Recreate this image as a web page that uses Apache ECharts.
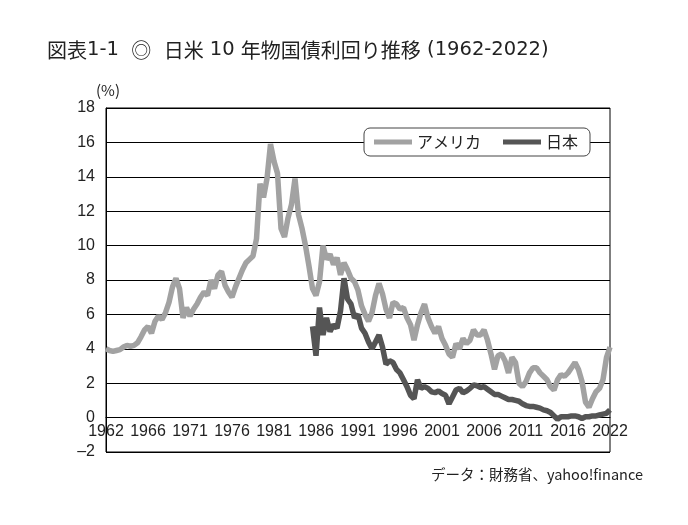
<!DOCTYPE html>
<html>
<head>
<meta charset="utf-8">
<script src="https://cdn.jsdelivr.net/npm/echarts@6/dist/echarts.min.js"></script>
<style>
  html, body { margin: 0; padding: 0; background: #fff; }
  #chart { width: 688px; height: 525px; }
</style>
</head>
<body>
<div id="chart"></div>
<script>
// 目盛りラベル (等間隔、12点ごと)
const xLabels = ['1962', '1966', '1971', '1976', '1981', '1986', '1991', '1996', '2001', '2006', '2011', '2016', '2022'];
const stepPerLabel = 12;

// アメリカ 10年債利回り (%)
const usYield = [
  4.0, 3.9, 3.85, 3.9, 3.95, 4.1, 4.2, 4.15, 4.2, 4.35, 4.7, 5.1,
  5.3, 4.9, 5.6, 5.9, 5.7, 6.1, 6.7, 7.6, 8.1, 7.5, 5.8, 6.4,
  5.9, 6.3, 6.6, 7.0, 7.3, 7.1, 8.0, 7.5, 8.3, 8.5, 7.7, 7.3,
  7.0, 7.6, 8.1, 8.6, 9.0, 9.2, 9.4, 10.4, 13.6, 12.8, 13.9, 15.9,
  14.9, 14.2, 11.0, 10.5, 11.6, 12.4, 13.9, 11.8, 11.0, 10.0, 8.8, 7.5,
  7.1, 7.9, 10.0, 9.2, 9.5, 8.9, 9.3, 8.3, 9.0, 8.6, 8.1, 7.9,
  7.4, 6.5, 6.0, 5.6, 6.1, 7.1, 7.8, 7.2, 6.3, 5.8, 6.7, 6.6,
  6.3, 6.4, 5.8, 5.4, 4.5, 5.4, 6.1, 6.6, 5.8, 5.3, 4.9, 5.3,
  4.6, 4.2, 3.7, 3.5, 4.3, 4.0, 4.6, 4.3, 4.5, 5.1, 4.8, 4.8,
  5.1, 4.5, 3.7, 2.8, 3.6, 3.7, 3.3, 2.6, 3.5, 3.2, 2.0, 1.8,
  2.1, 2.6, 2.9, 2.9, 2.6, 2.4, 2.2, 1.8, 1.6, 2.2, 2.5, 2.4,
  2.6, 2.9, 3.2, 2.8, 2.1, 0.9, 0.6, 1.1, 1.5, 1.7, 2.2, 3.5, 4.1
];

// 日本 10年債利回り (%)、59点目から
const jpStart = 59;
const jpYield = [
  5.3, 3.6, 6.4, 4.8, 5.8, 5.0, 5.4, 5.2, 6.2, 8.1, 6.9, 6.6, 5.8,
  6.0, 5.2, 4.9, 4.4, 4.0, 4.4, 4.8, 4.1, 3.1, 3.3, 3.2, 2.8,
  2.6, 2.2, 1.8, 1.3, 1.1, 2.2, 1.7, 1.8, 1.7, 1.5, 1.45, 1.55,
  1.4, 1.3, 0.8, 1.2, 1.6, 1.7, 1.45, 1.55, 1.7, 1.9, 1.85, 1.75,
  1.8, 1.65, 1.5, 1.35, 1.35, 1.25, 1.15, 1.05, 1.05, 1.0, 0.95, 0.8,
  0.7, 0.65, 0.65, 0.6, 0.55, 0.45, 0.4, 0.3, 0.1, -0.1, 0.05, 0.05,
  0.05, 0.1, 0.1, 0.05, -0.05, 0.05, 0.05, 0.1, 0.1, 0.15, 0.2, 0.25, 0.45
];

const categories = usYield.map((v, i) => (i % stepPerLabel === 0 ? xLabels[i / stepPerLabel] : ''));
const jpData = new Array(jpStart).fill(null).concat(jpYield);

const numFont = '"Liberation Sans Narrow", "Liberation Sans", Arial, sans-serif';
const jpFont = '"Noto Sans CJK JP", sans-serif';
const titleNumFont = '"DejaVu Sans", sans-serif';

// y軸の範囲 (-2〜18)、x軸は0の位置に置く
const yMin = -2, yMax = 18;
const gridH = 344;

var chart = echarts.init(document.getElementById('chart'));
chart.setOption({
  animation: false,
  backgroundColor: '#fff',
  title: {
    text: '{a|図表}{b|1-1  }{a|◎}{b|  }{a|日米}{b| 10 }{a|年物国債利回り推移}{b| (1962-2022)}',
    left: 42,
    top: 35,
    textStyle: {
      fontWeight: 'normal',
      rich: {
        a: { fontFamily: jpFont, fontSize: 20, fontWeight: 'normal', color: '#222' },
        b: { fontFamily: titleNumFont, fontSize: 19.5, fontWeight: 'normal', color: '#222' }
      }
    }
  },
  legend: {
    left: 364,
    top: 128,
    icon: 'rect',
    itemWidth: 38,
    itemHeight: 5,
    itemGap: 22,
    padding: [6, 12, 6, 10],
    backgroundColor: '#fff',
    borderColor: '#444',
    borderWidth: 1,
    borderRadius: 6,
    textStyle: {
      fontFamily: jpFont,
      fontSize: 16,
      color: '#222'
    },
    data: ['アメリカ', '日本']
  },
  grid: {
    left: 106,
    top: 108,
    width: 504,
    height: gridH,
    show: true,
    borderColor: '#000',
    borderWidth: 1
  },
  xAxis: {
    type: 'category',
    data: categories,
    boundaryGap: false,
    offset: -gridH * (0 - yMin) / (yMax - yMin),
    axisLine: { onZero: false, lineStyle: { color: '#000', width: 1 } },
    axisTick: { show: false },
    axisLabel: {
      interval: stepPerLabel - 1,
      showMaxLabel: true,
      margin: 6,
      fontFamily: numFont,
      fontSize: 16,
      color: '#222'
    },
    splitLine: { show: false }
  },
  yAxis: {
    type: 'value',
    min: yMin,
    max: yMax,
    interval: 2,
    axisLine: { show: true, lineStyle: { color: '#000', width: 1 } },
    axisTick: { show: false },
    axisLabel: {
      margin: 11,
      fontFamily: numFont,
      fontSize: 16,
      color: '#222',
      formatter: function (v) { return v < 0 ? '–' + Math.abs(v) : String(v); }
    },
    splitLine: { show: true, lineStyle: { color: '#000', width: 1 } }
  },
  series: [
    {
      name: 'アメリカ',
      type: 'line',
      data: usYield,
      showSymbol: false,
      color: '#a2a2a2',
      lineStyle: { width: 5.5, color: '#a2a2a2' }
    },
    {
      name: '日本',
      type: 'line',
      data: jpData,
      showSymbol: false,
      connectNulls: false,
      color: '#555555',
      lineStyle: { width: 5.5, color: '#555555' }
    }
  ],
  graphic: [
    {
      type: 'text',
      left: 96,
      top: 83,
      style: { text: '(%)', font: '15px ' + jpFont, fill: '#222' }
    },
    {
      type: 'text',
      right: 45,
      top: 467,
      style: { text: 'データ：財務省、yahoo!finance', font: '14.5px ' + jpFont, fill: '#222' }
    }
  ]
});
</script>
</body>
</html>
